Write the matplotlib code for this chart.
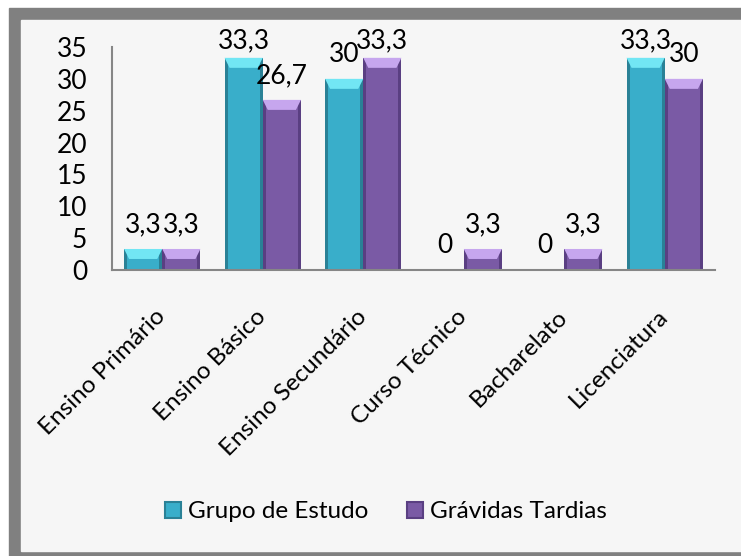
import matplotlib
matplotlib.use("Agg")
import matplotlib.pyplot as plt
import numpy as np
from matplotlib.patches import Rectangle, Polygon
from matplotlib.colors import LinearSegmentedColormap

categories = ["Ensino Primário", "Ensino Básico", "Ensino Secundário",
              "Curso Técnico", "Bacharelato", "Licenciatura"]
grupo_estudo = [3.3, 33.3, 30, 0, 0, 33.3]
gravidas_tardias = [3.3, 26.7, 33.3, 3.3, 3.3, 30]
series_names = ["Grupo de Estudo", "Grávidas Tardias"]
y_ticks = [0, 5, 10, 15, 20, 25, 30, 35]

plt.rcParams['font.family'] = ['Lato', 'DejaVu Sans']
FS = 19
FS_TXT = 17.5

W, H = 741, 556
fig = plt.figure(figsize=(W / 100, H / 100), dpi=100)

# ---- background frame ----
bg = fig.add_axes([0, 0, 1, 1], zorder=-10)
bg.set_xlim(0, W)
bg.set_ylim(H, 0)
bg.set_axis_off()
bg.add_patch(Rectangle((0, 0), W, H, color="white"))
bg.add_patch(Rectangle((9, 8), W - 9, H - 8, color="#808080"))
gx = np.linspace(0, 1, 400)
grad = 0.5 + 0.42 * np.exp(-((gx - 0.48) / 0.2) ** 2)
grad_img = np.tile(grad, (2, 1))
gray_cmap = LinearSegmentedColormap.from_list("g", ["black", "white"])
bg.imshow(grad_img, extent=[21, W, 20, 8], cmap=gray_cmap, vmin=0, vmax=1,
          aspect="auto", interpolation="bilinear")
bg.imshow(grad_img, extent=[21, W, H, 551], cmap=gray_cmap, vmin=0, vmax=1,
          aspect="auto", interpolation="bilinear")
bg.add_patch(Rectangle((21, 20), W - 21, 531, color="#F6F6F6"))
bg.set_xlim(0, W)
bg.set_ylim(H, 0)

# ---- main axes ----
left, right, top, bottom = 112, 715, 47, 270
ax = fig.add_axes([left / W, 1 - bottom / H, (right - left) / W, (bottom - top) / H])
ax.set_facecolor("none")
ax.set_xlim(-0.5, len(categories) - 0.5)
ax.set_ylim(0, 35)

x = np.arange(len(categories))
bw = 0.38
styles = [
    dict(body="#39AECA", top="#72E6F4", edge="#2A8196"),
    dict(body="#7A5AA5", top="#C6A6EE", edge="#5A3F82"),
]
series = [grupo_estudo, gravidas_tardias]

ppu_y = (bottom - top) / 35.0
ppu_x = (right - left) / len(categories)
bevel_h = 10 / ppu_y
bevel_in = 5 / ppu_x
side_w = 3 / ppu_x

for si, (vals, st) in enumerate(zip(series, styles)):
    offs = (si - 0.5) * bw
    bars = ax.bar(x + offs, vals, bw, color=st["body"], linewidth=0, zorder=2,
                  label=series_names[si])
    for b, v in zip(bars, vals):
        if v <= 0:
            continue
        bx, bwid, bh = b.get_x(), b.get_width(), b.get_height()
        ax.add_patch(Rectangle((bx, 0), side_w, bh, color=st["edge"], lw=0, zorder=3))
        ax.add_patch(Rectangle((bx + bwid - side_w, 0), side_w, bh, color=st["edge"], lw=0, zorder=3))
        ax.add_patch(Polygon([(bx, bh), (bx + bwid, bh),
                              (bx + bwid - bevel_in, bh - bevel_h),
                              (bx + bevel_in, bh - bevel_h)],
                             closed=True, color=st["top"], lw=0, zorder=4))
    lab_gap = 17 / ppu_y
    clamp = (bottom - 48) / ppu_y
    for xi, v in zip(x + offs, vals):
        txt = f"{v:g}".replace(".", ",")
        ax.text(xi, min(v + lab_gap, clamp), txt, ha="center", va="baseline",
                fontsize=FS, color="black", zorder=6)

for s in ["top", "right"]:
    ax.spines[s].set_visible(False)
for s in ["left", "bottom"]:
    ax.spines[s].set_color("#868686")
    ax.spines[s].set_linewidth(1.5)
    ax.spines[s].set_zorder(5)

ax.set_yticks(y_ticks)
ax.set_yticklabels([str(t) for t in y_ticks], fontsize=FS)
ax.tick_params(axis="y", length=0, pad=18)
ax.set_xticks(x)
ax.set_xticklabels(categories, fontsize=FS_TXT, rotation=45, ha="right",
                   va="center", rotation_mode="anchor")
ax.tick_params(axis="x", length=0, pad=31)

handles = [Rectangle((0, 0), 1, 1, facecolor=styles[0]["body"], edgecolor=styles[0]["edge"], lw=1.5),
           Rectangle((0, 0), 1, 1, facecolor=styles[1]["body"], edgecolor=styles[1]["edge"], lw=1.5)]
fig.legend(handles, series_names, loc="center", bbox_to_anchor=(386 / W, 1 - 512 / H),
           ncol=2, frameon=False, fontsize=FS_TXT, handlelength=0.65, handleheight=0.65,
           handletextpad=0.3, columnspacing=1.6)

fig.savefig("out.png", dpi=100)
